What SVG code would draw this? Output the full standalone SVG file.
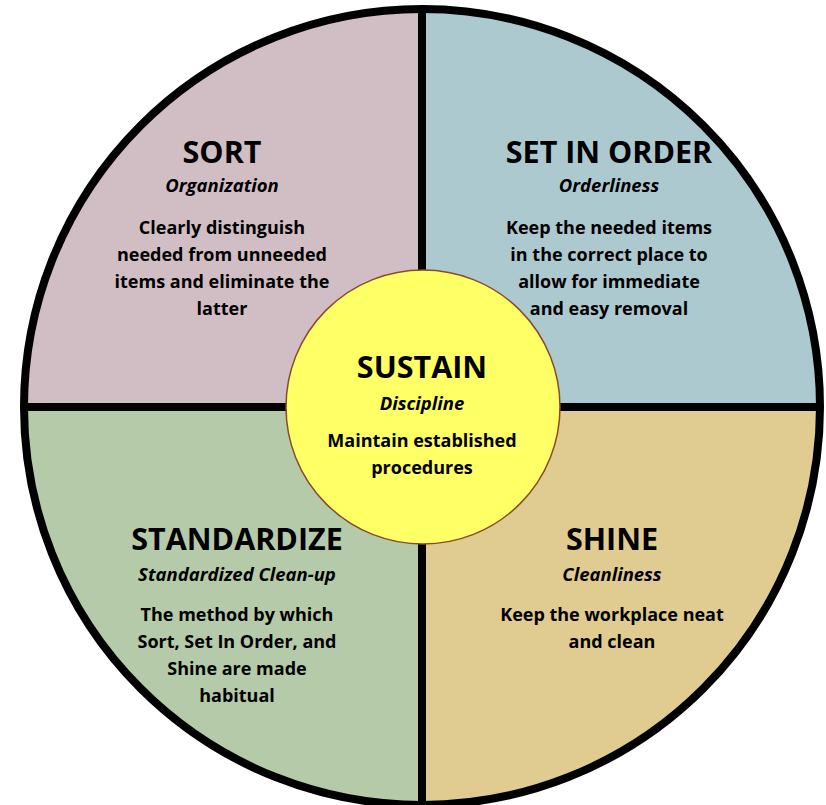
<svg xmlns="http://www.w3.org/2000/svg" width="826" height="805" viewBox="0 0 826 805">
<style>
text{font-family:"Open Sans","Liberation Sans",sans-serif;font-weight:bold;fill:#000;text-anchor:middle}
.t{font-size:30.5px}
.s{font-size:18.5px;font-style:italic}
.b{font-size:18px}
.div{stroke:#000;stroke-width:8;fill:none}
</style>
<defs>
<clipPath id="c"><circle cx="422" cy="407" r="398"/></clipPath>
</defs>
<rect width="826" height="805" fill="#fff"/>
<g id="quadrants" clip-path="url(#c)">
<rect x="0" y="0" width="422" height="407" fill="#D1BEC4"/>
<rect x="422" y="0" width="404" height="407" fill="#ADC9D0"/>
<rect x="0" y="407" width="422" height="398" fill="#B5CAA8"/>
<rect x="422" y="407" width="404" height="398" fill="#E0CB90"/>
</g>
<g id="connectors">
<line class="div" x1="422" y1="9" x2="422" y2="805"/>
<line class="div" x1="24" y1="407" x2="820" y2="407"/>
<circle class="div" cx="422" cy="407" r="398" stroke-width="7"/>
</g>
<g id="sort">
<text class="t" x="222" y="163">SORT</text>
<text class="s" x="222" y="192">Organization</text>
<text class="b" x="222" y="234">Clearly distinguish</text>
<text class="b" x="222" y="261">needed from unneeded</text>
<text class="b" x="222" y="288">items and eliminate the</text>
<text class="b" x="222" y="315">latter</text>
</g>
<g id="set-in-order">
<text class="t" x="609" y="163">SET IN ORDER</text>
<text class="s" x="609" y="192">Orderliness</text>
<text class="b" x="609" y="234">Keep the needed items</text>
<text class="b" x="609" y="261">in the correct place to</text>
<text class="b" x="609" y="288">allow for immediate</text>
<text class="b" x="609" y="315">and easy removal</text>
</g>
<g id="standardize">
<text class="t" x="237" y="550">STANDARDIZE</text>
<text class="s" x="237" y="581">Standardized Clean-up</text>
<text class="b" x="237" y="621">The method by which</text>
<text class="b" x="237" y="648">Sort, Set In Order, and</text>
<text class="b" x="237" y="675">Shine are made</text>
<text class="b" x="237" y="702">habitual</text>
</g>
<g id="shine">
<text class="t" x="612" y="550">SHINE</text>
<text class="s" x="612" y="581">Cleanliness</text>
<text class="b" x="612" y="621">Keep the workplace neat</text>
<text class="b" x="612" y="648">and clean</text>
</g>
<g id="sustain">
<circle cx="423" cy="407" r="137" fill="#FFFF66" stroke="#8B4A2B" stroke-width="1.5"/>
<text class="t" x="422" y="378">SUSTAIN</text>
<text class="s" x="422" y="410">Discipline</text>
<text class="b" x="422" y="447">Maintain established</text>
<text class="b" x="422" y="474">procedures</text>
</g>
</svg>
